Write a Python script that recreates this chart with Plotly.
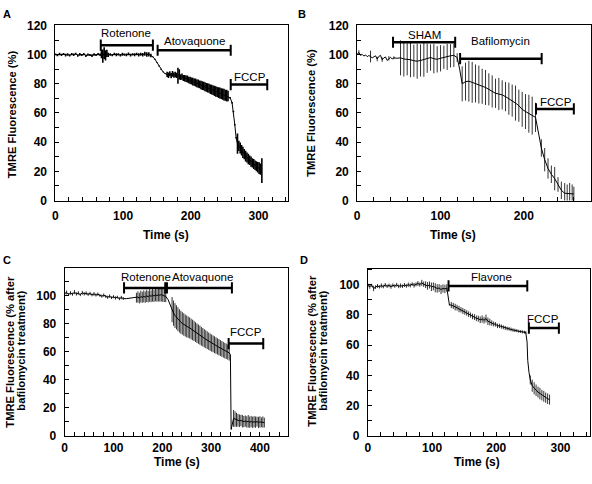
import plotly.graph_objects as go

# ---------------- DATA ----------------
# Panel A
A_time = [0,3,6,9,12,15,18,21,24,27,30,33,36,39,42,45,48,51,54,57,60,63,66,
          68,70,72,74,76,78,
          81,84,87,90,93,96,99,102,105,108,111,114,117,120,123,126,129,132,135,138,141,
          144,147,150,153,156,159,162,
          165,167,169,171,173,175,177,179,181,183,
          185,187,189,191,193,195,197,199,201,203,205,207,209,211,213,215,217,219,221,223,
          225,227,229,231,233,235,237,239,241,243,245,247,249,251,253,255,
          258,261,263,265,267,269,
          271,273,275,277,279,281,283,285,287,289,291,293,295,297,299,301,303,305]
A_mean = [100.2,99.6,100.4,99.8,100.5,99.7,100.1,99.5,100.3,99.9,100.6,99.4,100.2,99.8,100.4,99.2,100.0,99.7,99.3,100.1,99.8,100.3,99.9,
          100.5,99.0,101.0,99.5,100.8,99.8,
          100.1,99.7,100.4,99.9,100.2,99.6,100.3,100.0,99.8,100.5,99.7,100.2,99.9,100.4,99.8,100.3,99.9,100.6,100.1,100.2,99.4,
          98.5,96.8,94.5,92.2,90.0,88.2,87.0,
          86.5,85.8,86.9,85.6,86.8,85.9,86.4,85.7,85.5,86.5,
          84.6,84.9,84.0,83.8,83.5,83.3,82.6,82.4,82.0,81.5,81.2,80.9,80.3,80.1,79.6,79.2,78.8,78.5,78.0,77.6,
          77.2,76.9,76.3,76.0,75.6,75.2,74.8,74.4,74.0,73.7,73.3,72.9,72.6,72.2,71.9,71.6,
          70.5,67.0,61.0,52.0,43.0,39.0,
          37.5,36.0,34.5,33.0,31.8,30.5,29.5,28.5,27.6,26.7,25.8,25.0,24.2,23.5,22.8,22.2,21.5,20.5]
A_err = [0.8,0.7,0.9,0.8,0.7,0.9,0.8,0.7,0.8,0.9,0.7,0.8,0.9,0.7,0.8,0.9,0.8,0.7,0.9,0.8,0.7,0.8,0.9,
         3.0,4.5,4.0,3.5,2.5,1.5,
         0.9,0.8,0.9,1.0,0.8,0.9,1.0,0.8,0.9,1.0,0.9,0.8,1.0,0.9,1.1,1.0,1.2,1.3,1.5,1.4,1.2,
         0.3,0.3,0.3,0.3,0.3,0.3,0.3,
         1.8,1.9,1.7,1.8,2.0,1.8,1.9,1.8,5.5,3.5,
         2.0,2.2,2.0,2.3,2.2,2.4,2.3,2.5,2.4,2.6,2.5,2.7,2.6,2.8,2.7,2.9,3.0,2.9,3.1,3.0,
         3.2,3.1,3.3,3.4,3.3,3.5,3.6,3.5,3.7,3.8,3.7,3.9,4.0,3.8,4.0,3.6,
         0.5,0.5,0.5,0.5,0.5,7.0,
         3.5,3.8,3.6,3.8,3.5,3.7,3.4,3.6,3.3,3.5,3.2,3.4,3.3,3.5,3.6,4.0,3.8,8.5]
A_treat = ["Rotenone", "Atovaquone", "FCCP"]
A_start = [67, 151, 259]
A_end = [144, 259, 313]
A_level = [106.5, 103.0, 79.5]

# Panel B
B_time = [0,2,4,6,8,10,12,14,16,18,20,22,24,26,28,30,32,34,36,38,40,42,44,
          48,52,56,60,64,68,72,76,80,84,88,92,96,100,104,108,112,116,
          120,123,126,
          130,134,138,142,146,150,154,158,162,166,170,174,178,182,186,190,194,198,202,206,210,214,
          218,221,225,229,233,237,241,245,249,252,255,258,260]
B_mean = [100.5,101.5,99.5,100.2,99.0,99.8,98.6,99.4,98.7,97.8,98.5,99.2,97.0,98.8,99.5,96.5,97.8,98.4,96.0,97.5,98.2,97.0,97.8,
          97.5,97.8,97.0,96.8,96.5,95.8,95.5,96.0,96.8,97.5,98.0,97.2,96.8,97.5,98.2,98.5,99.2,99.5,
          98.0,90.0,80.0,
          81.5,81.8,81.0,80.2,79.5,78.3,77.5,76.2,74.8,73.5,73.0,72.4,71.2,69.8,68.5,66.8,65.0,62.5,61.0,59.5,58.2,57.0,
          45.0,36.0,28.0,22.0,18.0,15.0,11.0,7.0,5.0,5.0,5.0,5.0,4.5]
B_err = [0,1.5,0,0,0,0,0,0,4.0,0,0,0,1.5,0,0,1.5,0,0,0,1.5,0,0,1.0,
         0,12,12,11,12,11,12,11,12,10,9,10,9,9,8,9,8,8,
         3,0,12,
         13,14,14,13,13,12,12,11,11,10,11,10,10,11,11,12,11,12,12,13,13,10,
         0,6,8,7,6,8,5,6,7,6,7,6,5]
B_treat = ["SHAM", "Bafilomycin", "FCCP"]
B_start = [43, 123.5, 214.6]
B_end = [117.6, 221.4, 260]
B_level = [108.5, 97.2, 62.8]

# Panel C
C_time = [0,4,8,12,16,20,24,28,32,36,40,44,48,52,56,60,64,68,72,76,80,84,88,92,96,100,104,108,112,116,120,
          126,132,138,144,
          147,150,153,156,159,162,165,168,171,174,177,180,183,186,189,192,195,198,201,204,207,
          212,216,
          220,223,226,229,232,235,238,241,244,247,250,253,256,259,262,265,268,271,274,277,280,283,286,289,292,295,
          298,301,304,307,310,313,316,319,322,325,328,331,334,337,
          339.5,341,
          346,349,352,355,358,361,364,367,370,373,376,379,382,385,388,391,394,397,400,403,406,409]
C_mean = [101.5,102.2,100.8,101.9,101.0,102.5,101.2,101.8,100.6,102.0,101.3,101.7,100.9,101.5,100.5,101.2,100.4,101.0,100.2,99.6,
          100.3,99.4,98.8,99.6,98.5,99.2,98.3,98.9,97.8,98.6,97.9,
          97.8,98.0,98.2,98.3,
          98.5,99.0,98.2,99.3,98.8,99.5,98.9,99.8,99.2,100.1,99.5,100.3,99.7,100.5,100.0,100.6,100.2,100.8,100.1,99.8,99.5,
          97.0,93.0,
          90.0,87.5,85.8,84.5,83.2,82.0,81.0,80.2,79.4,78.7,78.0,77.5,77.0,76.2,75.5,74.8,74.0,73.2,72.5,71.8,71.0,70.3,69.6,68.9,68.2,67.5,
          66.8,66.2,65.6,65.0,64.4,63.8,63.2,62.6,62.0,61.4,60.8,60.3,59.8,59.2,
          58.0,4.6,
          12.5,12.0,11.5,11.2,10.8,11.0,10.5,10.2,10.6,10.0,10.4,9.8,10.3,9.7,10.1,9.8,10.2,9.6,10.0,9.7,9.9,9.5]
C_err = [1.2,1.4,1.0,1.3,1.1,1.5,1.2,1.3,1.0,1.4,1.2,1.3,1.1,1.2,1.0,1.3,1.1,1.2,1.0,1.1,1.2,1.0,1.1,1.2,1.0,1.1,1.2,1.0,1.1,1.2,1.0,
         0,0,0,0,
         3.5,4.0,3.8,4.2,3.9,4.3,4.0,4.4,4.1,4.5,4.2,4.6,4.3,4.5,4.4,4.8,4.5,5.0,4.6,4.4,4.2,
         0,0,
         9.0,9.0,8.8,8.6,8.5,8.3,8.2,8.0,8.0,7.8,7.8,7.6,7.5,7.4,7.3,7.2,7.0,7.0,6.9,6.8,6.7,6.6,6.5,6.4,6.3,6.2,
         6.2,6.1,6.0,6.0,5.9,5.8,5.8,5.7,5.6,5.6,5.5,5.5,5.4,5.5,
         0,0,
         6.0,5.5,5.0,4.5,4.5,4.0,4.5,4.0,4.0,4.0,4.5,4.0,4.0,4.0,4.0,4.0,3.5,4.0,4.0,3.5,4.0,3.5]
C_treat = ["Rotenone", "Atovaquone", "FCCP"]
C_start = [121.6, 209.5, 335.9]
C_end = [206, 342.6, 406.8]
C_level = [105.5, 105.5, 65.8]

# Panel D
D_time = [0,3,6,9,12,15,18,21,24,27,30,33,36,39,42,45,48,51,54,57,60,63,66,69,72,75,78,81,84,87,90,93,96,99,102,105,108,111,114,117,120,123,
          125,127,
          130,133,136,139,142,145,148,151,154,157,160,163,166,169,172,175,178,181,184,187,190,193,196,199,202,205,208,211,214,217,220,223,226,229,232,235,238,241,244,246,
          248,249,251,253,
          256,259,262,265,268,271,274,277,280,283]
D_mean = [99.5,98.8,99.6,97.5,98.4,99.2,98.6,99.4,98.8,99.8,99.0,99.5,98.7,99.6,99.1,99.9,98.9,99.4,99.0,99.8,99.2,100.0,99.5,100.4,99.6,100.2,100.8,100.1,101.2,100.3,
          100.0,99.2,99.8,98.6,98.9,98.0,97.5,97.8,96.8,97.5,97.2,97.8,
          93.0,86.7,
          86.5,86.0,85.2,84.8,83.9,83.4,82.6,82.0,81.3,80.5,79.9,79.0,78.6,77.8,77.5,76.8,77.3,76.5,77.6,75.8,75.3,74.6,74.0,73.8,72.8,72.8,72.3,71.8,71.4,71.0,
          70.8,70.4,70.0,69.8,69.6,69.2,69.0,68.8,68.6,68.4,
          62.0,50.0,42.0,37.0,
          33.2,31.5,30.2,29.0,28.0,27.0,26.2,25.3,24.6,24.0]
D_err = [1.2,1.5,1.0,1.8,1.2,1.3,1.1,1.4,1.2,1.3,1.1,1.2,1.4,1.2,1.1,1.3,1.2,1.4,1.1,1.3,1.2,1.4,1.3,1.2,1.5,1.3,1.6,1.4,2.0,1.8,
         2.2,2.5,2.3,2.8,2.6,3.0,2.8,2.6,3.0,2.7,2.8,2.5,
         0,0.5,
         2.0,2.0,2.2,1.9,2.1,1.8,2.0,1.9,1.8,1.9,1.7,1.8,1.9,1.8,2.0,2.2,2.4,2.2,2.6,2.5,2.2,1.8,1.6,1.5,1.5,1.4,1.4,1.3,1.3,1.2,
         1.2,1.2,1.1,1.1,1.0,1.0,1.0,1.0,0.9,0.9,
         0,0,0,3.0,
         4.0,4.0,3.8,3.6,3.8,3.5,3.6,3.4,3.5,3.3]
D_treat = ["Flavone", "FCCP"]
D_start = [125.7, 250.8]
D_end = [248.3, 297.5]
D_level = [99.2, 71.3]

# ---------------- FIGURE ----------------
W, H = 592, 484
FONT = "Liberation Sans, Arial, sans-serif"

def px(x):
    return x / W

def py(y):
    return 1 - y / H

fig = go.Figure()

panels = [
    ("x", "y", A_time, A_mean, A_err, A_treat, A_start, A_end, A_level,
     [(105, 115), (205, 109.3), (287.5, 85)], "black", 1.6),
    ("x2", "y2", B_time, B_mean, B_err, B_treat, B_start, B_end, B_level,
     [(80.6, 113.3), (172, 109.3), (238.8, 67.5)], "#333333", 1),
    ("x3", "y3", C_time, C_mean, C_err, C_treat, C_start, C_end, C_level,
     [(166, 113.2), (281.8, 113.2), (371, 74.4)], "#333333", 1),
    ("x4", "y4", D_time, D_mean, D_err, D_treat, D_start, D_end, D_level,
     [(192.1, 104.9), (273.4, 77.1)], "#333333", 1),
]

annotations = []
for xa, ya, t, m, e, names, st, en, lv, labpos, ecol, ew in panels:
    fig.add_trace(go.Scatter(
        x=t, y=m, mode="lines", xaxis=xa, yaxis=ya,
        line=dict(color="black", width=1),
        error_y=dict(type="data", array=e, symmetric=True, color=ecol,
                     thickness=ew, width=0),
        showlegend=False, hoverinfo="skip"))
    for i, name in enumerate(names):
        fig.add_trace(go.Scatter(
            x=[st[i], en[i]], y=[lv[i], lv[i]], mode="lines+markers",
            xaxis=xa, yaxis=ya,
            line=dict(color="black", width=2.5),
            marker=dict(symbol="line-ns", size=8,
                        line=dict(color="black", width=2)),
            showlegend=False, hoverinfo="skip"))
        annotations.append(dict(
            x=labpos[i][0], y=labpos[i][1], xref=xa, yref=ya,
            text=name, showarrow=False,
            font=dict(family=FONT, size=11.5, color="black"),
            xanchor="center", yanchor="middle"))

# panel letters
for letter, (lx, ly) in zip("ABCD", [(4.5, 7), (301, 7), (4.5, 261), (302.5, 261)]):
    annotations.append(dict(x=px(lx), y=py(ly), xref="paper", yref="paper",
                            text=letter, showarrow=False,
                            font=dict(family=FONT, size=11, color="black", weight="bold"),
                            xanchor="center", yanchor="middle"))

# x titles
for (tx, ty) in [(163.7, 235), (452.7, 235), (175, 469), (476, 469)]:
    annotations.append(dict(x=px(tx), y=py(ty), xref="paper", yref="paper",
                            text="Time (s)", showarrow=False,
                            font=dict(family=FONT, size=12, color="black", weight="bold"),
                            xanchor="center", yanchor="middle"))

# y titles
ytitles = [
    ("TMRE Fluorescence (%)", 8.5, 110),
    ("TMRE Fluorescence (%)", 309.5, 109),
    ("TMRE Fluorescence (% after", 7, 355),
    ("bafilomycin treatment)", 18, 354),
    ("TMRE Fluorescence (% after", 311, 353.5),
    ("bafilomycin treatment)", 322, 353.5),
]
for txt, tx, ty in ytitles:
    annotations.append(dict(x=px(tx), y=py(ty), xref="paper", yref="paper",
                            text=txt, showarrow=False, textangle=-90,
                            font=dict(family=FONT, size=11.2, color="black", weight="bold"),
                            xanchor="center", yanchor="middle"))

tickfont = dict(family=FONT, size=12, color="black", weight="bold")

def xaxis(domain, rng, anchor, standoff):
    return dict(domain=domain, range=rng, anchor=anchor,
                showline=True, linecolor="black", linewidth=1, mirror=True,
                ticks="inside", ticklen=4, tickcolor="black", tickwidth=1,
                tick0=0, dtick=100, tickfont=tickfont, ticklabelstandoff=standoff,
                minor=dict(ticks="inside", ticklen=4, tick0=0, dtick=20,
                           tickcolor="black", tickwidth=1),
                showgrid=False, zeroline=False, fixedrange=True)

def yaxis(domain, rng, anchor, tv):
    return dict(domain=domain, range=rng, anchor=anchor,
                showline=True, linecolor="black", linewidth=1, mirror=True,
                ticks="inside", ticklen=4, tickcolor="black", tickwidth=1,
                tickmode="array", tickvals=tv, tickfont=tickfont,
                ticklabelstandoff=5,
                minor=dict(ticks="inside", ticklen=4, tickmode="linear", tick0=0, dtick=10,
                           tickcolor="black", tickwidth=1),
                showgrid=False, zeroline=False, fixedrange=True)

yt_full = [0, 20, 40, 60, 80, 100, 120]
yt_low = [0, 20, 40, 60, 80, 100]

fig.update_layout(
    width=W, height=H,
    margin=dict(l=0, r=0, t=0, b=0),
    paper_bgcolor="white", plot_bgcolor="white",
    font=dict(family=FONT, color="black"),
    xaxis=xaxis([px(52.7), px(286.7)], [0, 344], "y", 4),
    yaxis=yaxis([py(199.3), py(19)], [0, 120], "x", yt_full),
    xaxis2=xaxis([px(356), px(590.5)], [0, 280], "y2", 4),
    yaxis2=yaxis([py(199.3), py(19)], [0, 120], "x2", yt_full),
    xaxis3=xaxis([px(62), px(286.7)], [0, 458], "y3", 1),
    yaxis3=yaxis([py(441.7), py(268.3)], [0, 120], "x3", yt_low),
    xaxis4=xaxis([px(366.7), px(590)], [0, 346], "y4", 1),
    yaxis4=yaxis([py(441.7), py(269.3)], [0, 110.7], "x4", yt_low),
    annotations=annotations,
)

fig.write_html("out.html",
               config={"displayModeBar": False},
               post_script="document.body.style.margin='0px';document.body.style.overflow='hidden';")
